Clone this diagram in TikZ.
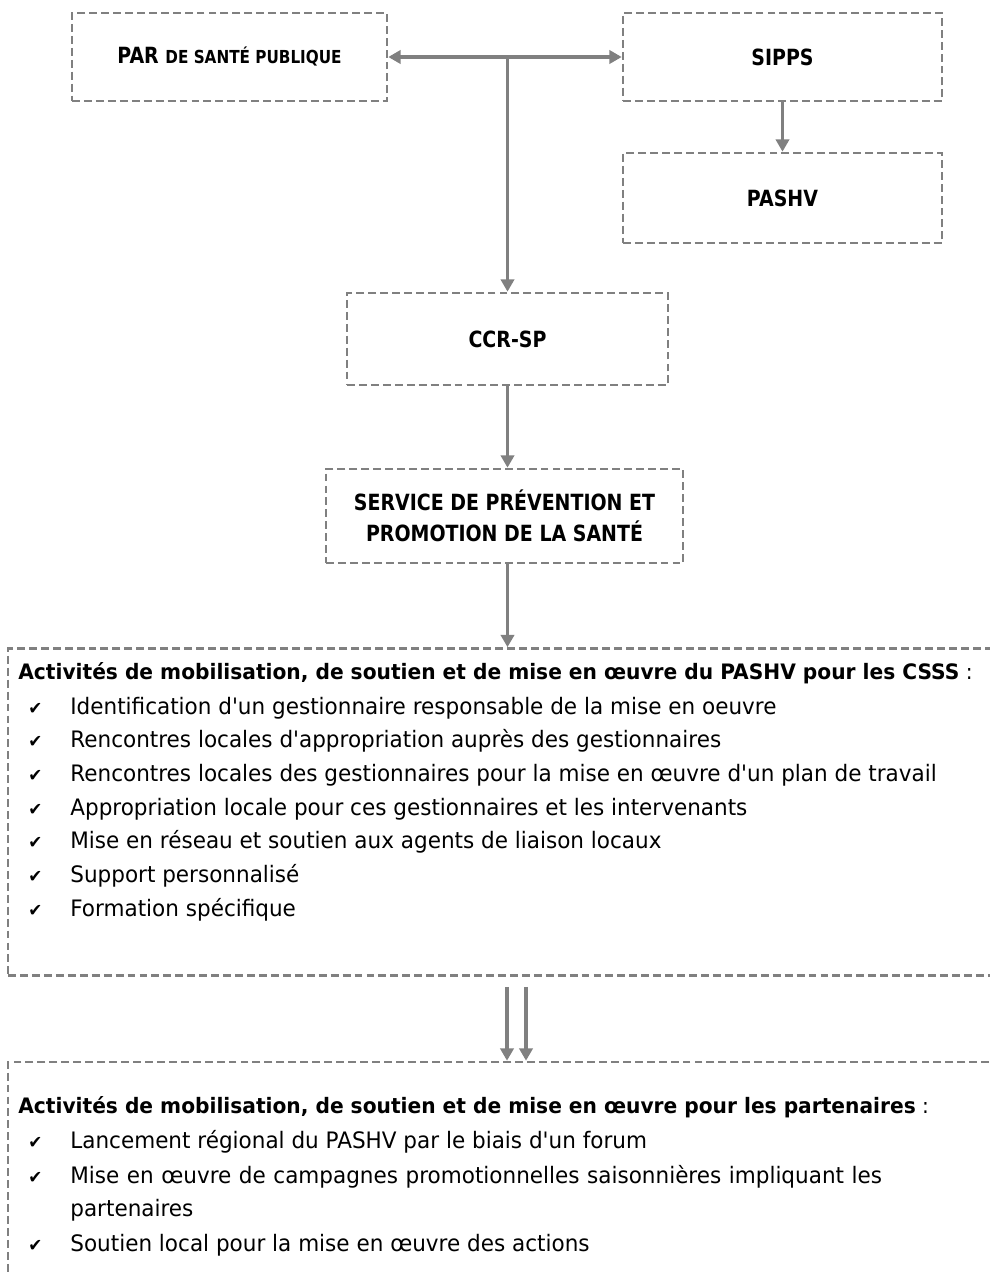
\documentclass[tikz,border=0pt]{standalone}
\usepackage{fontspec}
\setmainfont{DejaVu Sans}[FakeStretch=0.95, Ligatures=TeXOff]
\newfontfamily\framefont{DejaVu Sans}[FakeStretch=0.85]
\usetikzlibrary{arrows.meta, calc}

\definecolor{framegray}{RGB}{128,128,128}

\begin{document}
\begin{tikzpicture}[x=0.02cm, y=-0.02cm,
    frame/.style={draw=framegray, line width=1.5pt, dash pattern=on 4.5pt off 2.3pt,
        align=center, inner sep=0pt, font=\framefont\bfseries\fontsize{12.7}{17.5}\selectfont},
    link/.style={draw=framegray, line width=1.8pt, -{Triangle[length=7pt, width=7.5pt]}},
    tick/.style={anchor=base west, inner sep=0pt, font=\fontsize{10}{10}\selectfont},
    entry/.style={anchor=base west, inner sep=0pt, font=\fontsize{12.9}{19.1}\selectfont}]
    \useasboundingbox (0,0) rectangle (990,1274);

    % upper boxes
    \node[frame, minimum width=6.3cm, minimum height=1.76cm] (par) at (229.5,57)
        {PAR {\fontsize{10.2}{12}\selectfont DE SANTÉ PUBLIQUE}};
    \node[frame, minimum width=6.38cm, minimum height=1.76cm] (sipps) at (782.5,57) {SIPPS};
    \node[frame, minimum width=6.38cm, minimum height=1.8cm] (pashv) at (782.5,198) {PASHV};
    \node[frame, minimum width=6.42cm, minimum height=1.84cm] (ccr) at (507.5,339) {CCR-SP};
    \node[frame, minimum width=7.14cm, minimum height=1.88cm] (spps) at (504.5,516)
        {SERVICE DE PRÉVENTION ET\\PROMOTION DE LA SANTÉ};

    % activity boxes
    \node[frame, minimum width=19.84cm, minimum height=6.54cm] (csss) at (504,812) {};
    \node[frame, minimum width=19.84cm, minimum height=4.8cm] (part) at (504,1182) {};

    \draw[link, {Triangle[length=7pt, width=7.5pt]}-{Triangle[length=7pt, width=7.5pt]}] (par.east) -- (sipps.west);
    \draw[link] (ccr.north |- par.east) -- (ccr.north);
    \draw[link] (sipps) -- (pashv);
    \draw[link] (ccr.south) -- (ccr.south |- spps.north);
    \draw[link] (ccr.south |- spps.south) -- (ccr.south |- csss.north);
    \draw[link, shorten <=0.2cm] ($(csss.south)+(3,0)$) -- ($(part.north)+(3,0)$);
    \draw[link, shorten <=0.2cm] ($(csss.south)+(22,0)$) -- ($(part.north)+(22,0)$);

    % CSSS list
    \node[entry, font=\fontsize{12.1}{19.1}\selectfont] (csssh) at (18,679)
        {\textbf{Activités de mobilisation, de soutien et de mise en œuvre du PASHV pour les CSSS} :};
    \foreach \txt [count=\i] in {Identification d'un gestionnaire responsable de la mise en oeuvre,
        Rencontres locales d'appropriation auprès des gestionnaires,
        Rencontres locales des gestionnaires pour la mise en œuvre d'un plan de travail,
        Appropriation locale pour ces gestionnaires et les intervenants,
        Mise en réseau et soutien aux agents de liaison locaux,
        Support personnalisé,
        Formation spécifique} {
        \node[tick] (ca\i) at (28,{680.3+33.7*\i}) {✔};
        \node[entry] (ia\i) at (70,{680.3+33.7*\i}) {\txt};
    }

    % partner list
    \node[entry, font=\fontsize{12.1}{19.1}\selectfont] (parth) at (18,1113)
        {\textbf{Activités de mobilisation, de soutien et de mise en œuvre pour les partenaires} :};
    \node[tick] (cb1) at (28,1148) {✔};
    \node[entry] (ib1) at (70,1148) {Lancement régional du PASHV par le biais d'un forum};
    \node[tick] (cb2) at (28,1183) {✔};
    \node[entry, text width=17.5cm, align=left] (ib2) at (70,1183)
        {Mise en œuvre de campagnes promotionnelles saisonnières impliquant les\\partenaires};
    \node[tick] (cb3) at (28,1251) {✔};
    \node[entry] (ib3) at (70,1251) {Soutien local pour la mise en œuvre des actions};
\end{tikzpicture}
\end{document}
